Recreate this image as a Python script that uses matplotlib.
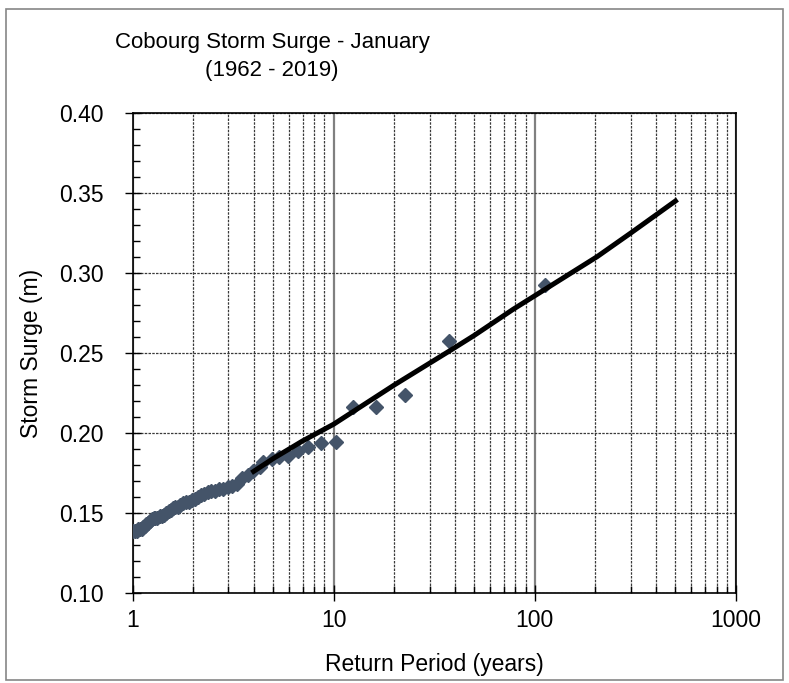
import matplotlib
matplotlib.use("Agg")
import matplotlib.pyplot as plt
from matplotlib.ticker import MultipleLocator, FixedLocator, FormatStrFormatter, NullFormatter
from matplotlib.patches import Rectangle

plt.rcParams['font.family'] = ['Liberation Sans', 'DejaVu Sans']

# annual January maxima, ranked (largest first)
return_period = [112.0, 37.6, 22.7, 16.3, 12.5, 10.25, 8.63, 7.49, 6.62, 5.95,
                 5.37, 4.93, 4.46, 4.29, 3.99, 3.74, 3.51, 3.31, 3.13, 2.97,
                 2.83, 2.70, 2.58, 2.47, 2.37, 2.27, 2.19, 2.11, 2.04, 1.97,
                 1.90, 1.84, 1.79, 1.73, 1.68, 1.63, 1.59, 1.55, 1.51, 1.47,
                 1.43, 1.40, 1.37, 1.33, 1.30, 1.28, 1.25, 1.22, 1.20, 1.17,
                 1.15, 1.13, 1.11, 1.09, 1.07, 1.05, 1.03, 1.01]
surge = [0.2925, 0.2575, 0.2235, 0.2165, 0.2165, 0.1945, 0.194, 0.1915, 0.189, 0.1855,
         0.1852, 0.184, 0.182, 0.179, 0.176, 0.174, 0.172, 0.168, 0.167, 0.166,
         0.165, 0.165, 0.164, 0.164, 0.163, 0.162, 0.161, 0.160, 0.159, 0.158,
         0.157, 0.157, 0.156, 0.155, 0.154, 0.154, 0.153, 0.152, 0.151, 0.150,
         0.149, 0.148, 0.148, 0.147, 0.147, 0.147, 0.146, 0.145, 0.144, 0.143,
         0.142, 0.141, 0.140, 0.140, 0.140, 0.139, 0.139, 0.139]

# fitted curve
fit_period = [4.0, 5.0, 7.0, 10.0, 20.0, 38.0, 50.0, 78.0, 100.0, 204.0, 300.0, 500.0]
fit_surge = [0.176, 0.184, 0.195, 0.2055, 0.230, 0.2516, 0.261, 0.2773, 0.2858, 0.3102, 0.325, 0.345]

fig = plt.figure(figsize=(7.89, 6.83), dpi=100)
ax = fig.add_axes([132.5 / 789, 1 - 593 / 683, (736 - 132.5) / 789, (593 - 113) / 683])

ax.plot(return_period, surge, linestyle='none', marker='D', markersize=7.5,
        color='#445469', zorder=3)
ax.plot(fit_period, fit_surge, color='black', linewidth=3.6, zorder=4)

ax.set_xscale('log')
ax.set_xlim(1, 1000)
ax.set_ylim(0.10, 0.40)

ax.xaxis.set_major_locator(FixedLocator([1, 10, 100, 1000]))
ax.xaxis.set_major_formatter(FormatStrFormatter('%g'))
ax.xaxis.set_minor_locator(FixedLocator([m * d for d in (1, 10, 100) for m in range(2, 10)]))
ax.xaxis.set_minor_formatter(NullFormatter())
ax.yaxis.set_major_locator(MultipleLocator(0.05))
ax.yaxis.set_minor_locator(MultipleLocator(0.01))
ax.yaxis.set_major_formatter(FormatStrFormatter('%.2f'))

ax.tick_params(which='major', direction='inout', length=11, width=1, labelsize=16.5)
ax.tick_params(which='minor', direction='in', length=5, width=1)
ax.tick_params(axis='x', which='major', pad=6)
ax.tick_params(axis='y', which='major', pad=15)

ax.grid(axis='y', which='major', color='#3a3a3a', linestyle=(0, (2, 1)), linewidth=0.9)
ax.grid(axis='x', which='minor', color='#3a3a3a', linestyle=(0, (2, 1)), linewidth=0.9)
ax.grid(axis='x', which='major', color='#808080', linestyle='-', linewidth=1.6)
ax.set_axisbelow(True)
for s in ax.spines.values():
    s.set_color('black')
    s.set_linewidth(1.2)

ax.set_xlabel('Return Period (years)', fontsize=16.5, labelpad=15)
ax.set_ylabel('Storm Surge (m)', fontsize=16.5, labelpad=12)

fig.text(272 / 789, 1 - 47.7 / 683, 'Cobourg Storm Surge - January',
         ha='center', va='baseline', fontsize=16)
fig.text(272 / 789, 1 - 76 / 683, '(1962 - 2019)',
         ha='center', va='baseline', fontsize=16)

fig.patches.append(Rectangle((6 / 789, 3 / 683), 777 / 789, 671 / 683,
                             transform=fig.transFigure, fill=False,
                             edgecolor='#868686', linewidth=1.2))

fig.savefig('out.png', dpi=100)
